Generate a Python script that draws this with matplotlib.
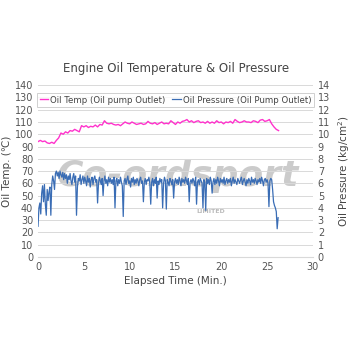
import numpy as np
import matplotlib.pyplot as plt

# oil temperature (deg C), sampled every 0.25 min
temp_c = [94, 95, 94, 94.5,
          93, 92.5, 93.5, 92.5,
          95, 97, 101, 100,
          102, 101, 103, 102.5,
          104, 103, 102, 107,
          106, 107, 105.5, 106.5,
          106, 107.5, 106, 108,
          107.5, 111, 109, 108.5,
          109, 108, 107.5, 108,
          107, 108.5, 110, 109,
          108.5, 110, 109, 108,
          108.5, 109, 108, 108.5,
          110.5, 109, 108.5, 109.5,
          108, 109, 110, 108.5,
          109, 108.5, 111, 109.5,
          108, 110, 109, 110.5,
          111, 112, 110, 111,
          109.5, 110.5, 111, 109.5,
          110, 109, 110.5, 109,
          110, 109, 111, 109.5,
          110, 108.5, 110, 109.5,
          110.5, 109, 112, 110.5,
          109.5, 110, 111, 110,
          110, 109.5, 111, 110.5,
          109.5, 111.5, 112, 110.5,
          111, 112, 108.5, 106,
          104, 103]

# oil pressure (kg/cm2), sampled every 0.1 min
pressure = [2.5, 4.0, 4.4, 3.5, 5.2, 5.8, 4.5, 5.9, 4.3, 3.4,
            5.5, 4.6, 5.3, 5.7, 3.4, 5.9, 6.6, 6.2, 5.5, 6.8,
            7.0, 6.6, 6.9, 6.4, 7.0, 6.7, 6.5, 6.9, 6.3, 6.8,
            6.4, 6.7, 6.0, 6.6, 6.3, 6.8, 6.2, 5.9, 6.5, 6.8,
            6.1, 6.6, 3.4, 5.7, 6.4, 6.2, 6.7, 5.9, 6.3, 6.6,
            6.0, 6.5, 6.2, 5.8, 6.6, 6.1, 6.4, 5.7, 6.3, 6.5,
            5.9, 6.4, 6.6, 6.1, 6.3, 4.4, 6.0, 6.5, 6.2, 5.9,
            6.4, 5.0, 6.2, 6.6, 6.0, 6.3, 5.8, 6.5, 6.1, 6.4,
            6.0, 6.3, 5.9, 6.5, 4.0, 6.2, 6.4, 5.8, 6.3, 6.0,
            6.5, 6.1, 5.8, 3.3, 6.2, 6.4, 5.9, 6.3, 6.6, 6.0,
            6.2, 5.7, 6.4, 6.1, 6.5, 5.9, 6.3, 6.0, 6.4, 6.2,
            5.8, 6.3, 6.5, 6.0, 6.2, 4.5, 6.1, 6.4, 5.9, 6.3,
            6.2, 6.5, 6.0, 4.3, 6.1, 6.4, 5.8, 6.3, 6.0, 6.5,
            4.8, 6.2, 5.9, 6.4, 6.1, 6.3, 4.0, 6.0, 6.5, 6.2,
            3.9, 6.3, 6.1, 5.8, 6.4, 6.2, 5.9, 6.3, 4.8, 6.1,
            6.4, 6.0, 6.3, 5.9, 6.5, 6.2, 5.8, 6.4, 6.1, 6.3,
            6.0, 6.5, 6.2, 5.9, 6.4, 4.5, 6.1, 6.3, 6.0, 6.4,
            6.2, 5.8, 6.5, 4.3, 6.1, 6.3, 5.9, 6.4, 6.2, 6.0,
            4.0, 6.3, 6.1, 3.8, 6.4, 6.0, 6.3, 5.9, 6.5, 6.2,
            5.2, 6.1, 6.4, 5.9, 6.3, 6.0, 6.5, 6.2, 5.8, 6.4,
            6.1, 6.3, 6.0, 6.5, 5.9, 6.2, 6.4, 6.0, 6.3, 6.1,
            6.4, 5.8, 6.2, 6.5, 6.0, 6.3, 6.1, 5.9, 6.4, 6.2,
            6.0, 6.3, 6.5, 5.9, 6.2, 6.4, 6.1, 5.8, 6.3, 6.0,
            6.4, 6.2, 5.9, 6.5, 6.1, 6.3, 6.0, 6.4, 6.2, 5.9,
            6.3, 6.1, 6.4, 6.0, 6.5, 6.2, 5.8, 6.3, 6.4, 6.1,
            6.3, 6.0, 4.1, 6.2, 6.4, 6.3, 5.5, 4.5, 4.2, 4.0,
            3.7, 2.3, 3.2]

temp_step = 0.25
press_step = 0.1

t_temp = np.arange(len(temp_c)) * temp_step
t_press = np.arange(len(pressure)) * press_step

pink = '#FF33CC'
blue = '#3A6DB5'

fig = plt.figure(figsize=(3.52, 3.52), dpi=100)
ax = fig.add_axes([0.108, 0.270, 0.781, 0.488])
ax2 = ax.twinx()

l1, = ax.plot(t_temp, temp_c, color=pink, lw=1.0, label='Oil Temp (Oil pump Outlet)')
l2, = ax2.plot(t_press, pressure, color=blue, lw=0.9, label='Oil Pressure (Oil Pump Outlet)')

ax.set_xlim(0, 30)
ax.set_ylim(0, 140)
ax2.set_ylim(0, 14)
ax.set_xticks(range(0, 31, 5))
ax.set_yticks(range(0, 141, 10))
ax2.set_yticks(range(0, 15, 1))

ax.grid(axis='y', color='#d9d9d9', lw=0.7)
ax.set_axisbelow(True)
for a in (ax, ax2):
    for s in a.spines.values():
        s.set_visible(False)
    a.tick_params(length=0, labelsize=7, colors='#555555')
ax.spines['bottom'].set_visible(True)
ax.spines['bottom'].set_color('#d9d9d9')

ax.set_xlabel('Elapsed Time (Min.)', fontsize=7.5, color='#444444', labelpad=3)
ax.set_ylabel('Oil Temp. (℃)', fontsize=7.5, color='#444444', labelpad=2)
ax2.set_ylabel('Oil Pressure (kg/cm$^2$)', fontsize=7.5, color='#444444', labelpad=4)
fig.text(0.5, 0.795, 'Engine Oil Temperature & Oil Pressure', ha='center',
         fontsize=8.5, color='#444444')

leg = ax2.legend(handles=[l1, l2], loc='upper center', ncol=2, fontsize=6.2,
                 frameon=True, fancybox=False, edgecolor='#bbbbbb',
                 handlelength=1.0, handletextpad=0.2, columnspacing=0.8,
                 borderpad=0.3, bbox_to_anchor=(0.5, 0.98))
leg.get_frame().set_linewidth(0.6)
for txt in leg.get_texts():
    txt.set_color('#444444')

# watermark, drawn behind the pressure line
ax.text(0.505, 0.50, 'Co-ordsport', transform=fig.transFigure, ha='center',
        va='center', fontsize=26, style='italic', weight='bold',
        color='#999999', alpha=0.5, zorder=0.5)
ax.text(0.60, 0.40, 'LIMITED', transform=fig.transFigure, ha='center',
        va='center', fontsize=4.5, weight='bold', color='#aaaaaa',
        alpha=0.8, zorder=0.5)

fig.savefig('out.png', dpi=100)
